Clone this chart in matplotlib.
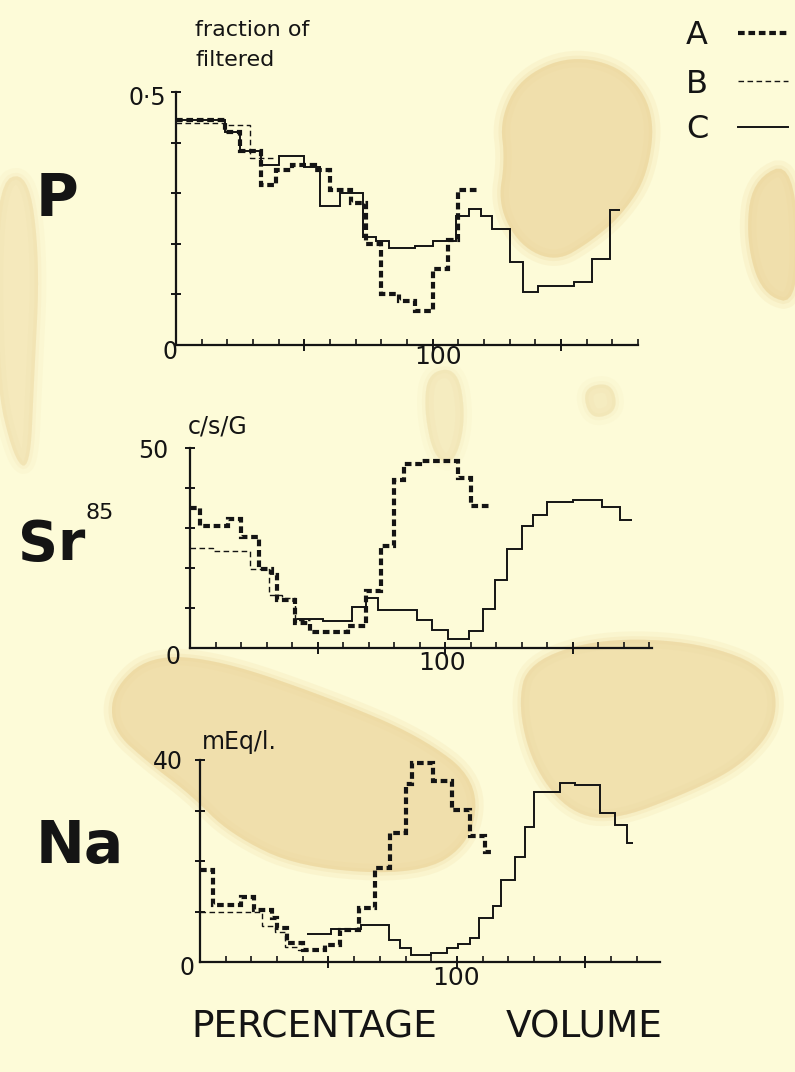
import matplotlib
matplotlib.use("Agg")
import matplotlib.pyplot as plt
from matplotlib.lines import Line2D
from matplotlib.patches import Polygon

# ---- step data: bin edges (percentage volume) and values per bin ----
# P, fraction of filtered
p_a_edges = [0, 19, 25, 33, 39, 45, 54, 60, 68, 74, 80, 87, 93, 100, 106, 110, 118]
p_a_vals = [0.445, 0.42, 0.383, 0.316, 0.345, 0.355, 0.345, 0.307, 0.28, 0.20,
            0.10, 0.086, 0.068, 0.15, 0.207, 0.307]
p_b_edges = [0, 19, 29, 39]
p_b_vals = [0.438, 0.435, 0.37]
p_c_edges = [0, 19, 25, 33, 40, 50, 56, 64, 73, 78, 83, 93, 100, 109, 114, 119,
             123, 130, 135, 141, 155, 162, 169, 173]
p_c_vals = [0.445, 0.42, 0.383, 0.355, 0.374, 0.352, 0.275, 0.301, 0.214, 0.206,
            0.191, 0.196, 0.205, 0.254, 0.268, 0.255, 0.23, 0.164, 0.105, 0.116,
            0.124, 0.17, 0.266]

# Sr85, c/s/G
sr_a_edges = [0, 4, 15, 20, 27, 32, 34, 41, 47, 62, 69, 75, 80, 84, 90, 105, 110, 117]
sr_a_vals = [34.9, 30.6, 32.3, 27.7, 19.7, 18.2, 12.1, 6.2, 3.9, 5.4, 14.3, 25.4,
             42.1, 46.1, 46.8, 42.5, 35.4]
sr_b_edges = [0, 9, 23.5, 31, 36, 41, 47]
sr_b_vals = [25.0, 24.2, 19.8, 13.3, 12.5, 7.0]
sr_c_edges = [42, 52, 63.5, 69, 73.5, 89, 95, 101, 109.5, 114.7, 119.3, 124, 130,
              134.3, 140, 150, 161.5, 168.3, 173]
sr_c_vals = [7.3, 6.8, 10.3, 12.5, 9.5, 7.0, 4.6, 2.3, 4.2, 9.8, 17.1, 24.8, 30.4,
             33.3, 36.6, 36.9, 35.2, 32.0]

# Na, mEq/l.
na_a_edges = [0, 5, 16, 21, 28, 30, 34, 40, 48.5, 54.5, 62, 68, 74, 80, 82.5, 90.5,
              98, 105, 111, 114]
na_a_vals = [18.3, 11.3, 12.9, 10.2, 8.8, 6.8, 3.7, 2.4, 3.3, 6.3, 10.6, 18.7, 25.5,
             35.2, 39.5, 35.8, 30.1, 25.0, 21.7]
na_b_edges = [0, 24, 29, 33, 38, 42]
na_b_vals = [10.0, 7.1, 6.0, 2.9, 2.4]
na_c_edges = [41.5, 51, 62.5, 73.5, 78, 82, 90, 96, 100.5, 105, 108.5, 114, 117,
              122.5, 126.5, 130, 140, 146, 155.5, 161.5, 166, 168.5]
na_c_vals = [5.5, 6.6, 7.4, 4.4, 2.7, 1.3, 1.8, 2.7, 3.6, 4.7, 8.8, 11.0, 16.2,
             20.7, 26.7, 33.7, 35.4, 35.1, 29.5, 27.1, 23.6]

PAPER = "#fdfbd8"
STAIN = "#ecd59b"
INK = "#141414"

W, H = 795, 1072
fig = plt.figure(figsize=(W / 100, H / 100), dpi=100, facecolor=PAPER)


def fx(x):
    return x / W


def fy(y):
    return 1 - y / H


def smooth(pts, rounds=3):
    # corner cutting so the stain outlines come out rounded
    for _ in range(rounds):
        out = []
        for i in range(len(pts)):
            (x0, y0), (x1, y1) = pts[i], pts[(i + 1) % len(pts)]
            out.append((0.75 * x0 + 0.25 * x1, 0.75 * y0 + 0.25 * y1))
            out.append((0.25 * x0 + 0.75 * x1, 0.25 * y0 + 0.75 * y1))
        pts = out
    return pts


# old water stains on the sheet (outline in pixels, strength)
stains = [
    ([(500, 120), (520, 78), (570, 55), (625, 68), (655, 112), (648, 175),
      (622, 215), (590, 242), (556, 262), (520, 246), (498, 205), (505, 160)], 0.55),
    ([(752, 180), (795, 160), (800, 305), (762, 295), (746, 240)], 0.55),
    ([(-5, 185), (28, 170), (40, 260), (34, 380), (30, 470), (14, 460), (-5, 380)], 0.3),
    ([(112, 690), (150, 655), (220, 660), (330, 698), (420, 736), (478, 780),
      (472, 842), (420, 875), (300, 868), (230, 834), (190, 794), (150, 764),
      (112, 730)], 0.55),
    ([(528, 662), (600, 638), (700, 642), (772, 670), (778, 722), (744, 764),
      (690, 792), (610, 822), (566, 810), (532, 764), (518, 705)], 0.5),
    ([(428, 372), (458, 368), (466, 420), (454, 465), (434, 458), (424, 410)], 0.25),
    ([(582, 388), (612, 382), (618, 412), (590, 420)], 0.25),
]
for pts, strength in stains:
    xy = [(fx(x), fy(y)) for x, y in smooth(pts)]
    for lw, a in [(12, 0.3), (5, 0.4), (0, 1.0)]:
        fig.patches.append(Polygon(xy, closed=True, transform=fig.transFigure,
                                   facecolor=STAIN, edgecolor=STAIN, lw=lw,
                                   alpha=a * strength, joinstyle="round",
                                   zorder=-10))


def make_axes(left, base, right, top, xmax, ymax, ystep):
    ax = fig.add_axes([fx(left), fy(base), (right - left) / W, (base - top) / H])
    ax.set_zorder(5)
    ax.patch.set_alpha(0)
    ax.set_xlim(0, xmax)
    ax.set_ylim(0, ymax)
    for s in ["top", "right"]:
        ax.spines[s].set_visible(False)
    for s in ["left", "bottom"]:
        ax.spines[s].set_linewidth(1.6)
        ax.spines[s].set_color(INK)
    ax.set_xticks([50, 100, 150])
    ax.set_xticks(range(10, int(xmax) + 1, 10), minor=True)
    yt = [ystep * i for i in range(1, int(round(ymax / ystep)) + 1)]
    ax.set_yticks(yt)
    ax.tick_params(axis="x", which="major", direction="inout", length=9,
                   width=1.4, color=INK, labelbottom=False)
    ax.tick_params(axis="x", which="minor", direction="in", length=4,
                   width=1.2, color=INK)
    ax.tick_params(axis="y", which="major", direction="inout", length=7,
                   width=1.4, color=INK, labelleft=False)
    return ax


def draw(ax, a, b, c):
    ax.stairs(c[1], c[0], baseline=None, color=INK, lw=1.4, clip_on=False)
    ax.stairs(b[1], b[0], baseline=None, color=INK, lw=1.0,
              linestyle=(0, (4, 2.5)), clip_on=False)
    ax.stairs(a[1], a[0], baseline=None, color=INK, lw=3.0,
              linestyle=(0, (1.6, 0.9)), clip_on=False)


ax_p = make_axes(176, 345, 638, 92, 180, 0.5, 0.1)
draw(ax_p, (p_a_edges, p_a_vals), (p_b_edges, p_b_vals), (p_c_edges, p_c_vals))

ax_sr = make_axes(190, 648, 652, 448, 181, 50, 10)
draw(ax_sr, (sr_a_edges, sr_a_vals), (sr_b_edges, sr_b_vals), (sr_c_edges, sr_c_vals))

ax_na = make_axes(200, 962, 660, 760, 179, 40, 10)
draw(ax_na, (na_a_edges, na_a_vals), (na_b_edges, na_b_vals), (na_c_edges, na_c_vals))


def label(x, y, s, size, **kw):
    fig.text(fx(x), fy(y), s, fontsize=size, color=INK, va="center",
             zorder=6, **kw)


# axis annotations
label(195, 30, "fraction of", 16, ha="left")
label(195, 60, "filtered", 16, ha="left")
label(166, 98, "0·5", 17, ha="right")
label(170, 352, "0", 17, ha="center")
label(438, 357, "100", 18, ha="center")

label(188, 427, "c/s/G", 17, ha="left")
label(168, 451, "50", 17, ha="right")
label(173, 657, "0", 17, ha="center")
label(442, 663, "100", 18, ha="center")

label(202, 742, "mEq/l.", 17, ha="left")
label(183, 762, "40", 17, ha="right")
label(187, 968, "0", 17, ha="center")
label(456, 978, "100", 18, ha="center")

# element labels
label(57, 200, "P", 42, ha="center", fontweight="bold")
label(52, 545, "Sr", 40, ha="center", fontweight="bold")
label(100, 513, "85", 16, ha="center")
label(80, 846, "Na", 42, ha="center", fontweight="bold")

label(314, 1028, "PERCENTAGE", 27, ha="center")
label(584, 1028, "VOLUME", 27, ha="center")

# key
for name, y, lw, ls in [("A", 36, 3.0, (0, (1.6, 0.9))),
                        ("B", 84, 1.0, (0, (4, 2.5))),
                        ("C", 130, 1.4, "-")]:
    label(697, y, name, 23, ha="center")
    fig.add_artist(Line2D([fx(738), fx(788)], [fy(y - 3), fy(y - 3)],
                          color=INK, lw=lw, linestyle=ls,
                          transform=fig.transFigure))

fig.savefig("out.png", dpi=100, facecolor=PAPER)
